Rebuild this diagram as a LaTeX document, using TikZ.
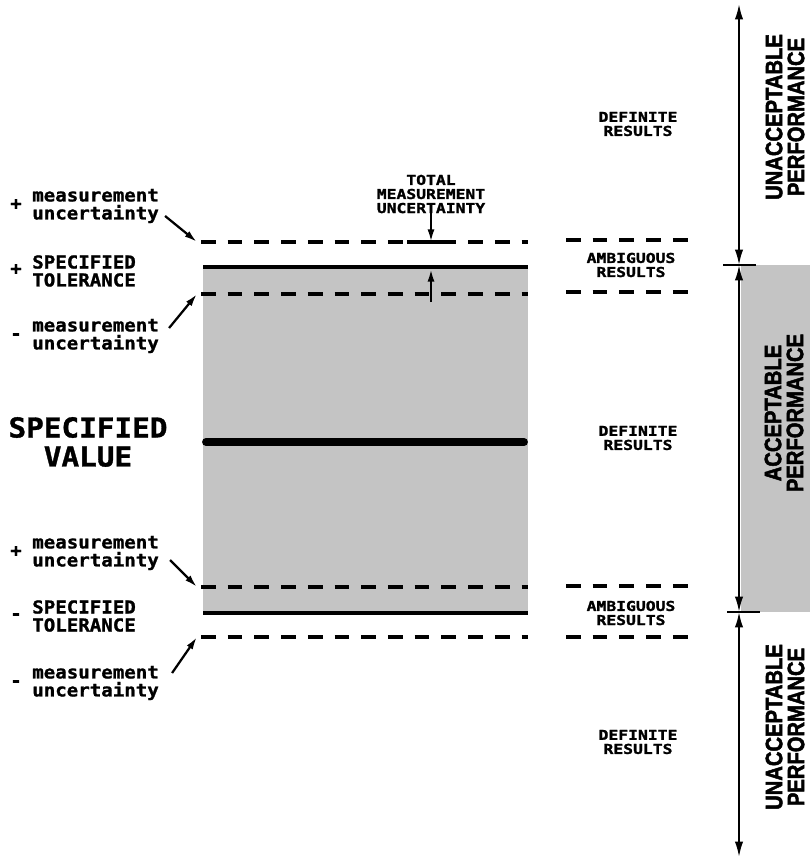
\documentclass[tikz,border=0pt]{standalone}
\usepackage{fontspec}
\usepackage{xcolor}
\usetikzlibrary{arrows.meta}
\newfontfamily\plotfont{DejaVu Sans Mono Bold}[FakeStretch=1.07, FakeBold=1.2]
\newfontfamily\smallplotfont{DejaVu Sans Mono Bold}[FakeStretch=1.2, FakeBold=1.5]
\newfontfamily\perffont{Liberation Sans Bold}[FakeStretch=0.85, FakeBold=2]
\definecolor{BandGray}{HTML}{C4C4C4}

\begin{document}
\begin{tikzpicture}[x=0.25mm, y=-0.25mm,
    levelsolid/.style={line width=2.8pt},
    levelcenter/.style={line width=5.6pt, line cap=round},
    leveldash/.style={line width=2.8pt, dash pattern=on 10.5pt off 8.5pt},
    pointer/.style={line width=1.6pt, -{Latex[length=9pt,width=5pt]}},
    perfarrow/.style={line width=1.4pt, {Latex[length=11pt,width=6pt]}-{Latex[length=11pt,width=6pt]}},
    sidetext/.style={font=\plotfont\fontsize{12.7}{12.8}\selectfont, align=left, anchor=west, inner sep=0pt},
    signtext/.style={font=\plotfont\fontsize{12.7}{12.8}\selectfont, inner sep=0pt, text height=1.2ex, text depth=0pt},
    smalltext/.style={font=\smallplotfont\fontsize{9.7}{10}\selectfont, align=center, inner sep=0pt},
    perftext/.style={font=\perffont\fontsize{16.9}{15.6}\selectfont, align=center, rotate=90, inner sep=0pt}]

  % Hintergrund (810 x 861 px)
  \fill[white] (0,0) rectangle (810,861);

  % Toleranzband und Balken rechts
  \fill[BandGray] (203,267) rectangle (528,613);
  \fill[BandGray] (741,265) rectangle (810,612);

  % Linkes Ende der Niveaulinien
  \coordinate (levPlusUncA) at (201,242);
  \coordinate (levPlusTol) at (203,267);
  \coordinate (levMinusUncA) at (201,294);
  \coordinate (levValue) at (206,442);
  \coordinate (levPlusUncB) at (201,587);
  \coordinate (levMinusTol) at (203,613);
  \coordinate (levMinusUncB) at (201,637);

  % Niveaulinien im Band
  \draw[leveldash] (levPlusUncA) -- ++(327,0);
  \draw[levelsolid] (levPlusTol) -- ++(325,0);
  \draw[leveldash] (levMinusUncA) -- ++(327,0);
  \draw[levelcenter] (levValue) -- ++(318,0);
  \draw[leveldash] (levPlusUncB) -- ++(327,0);
  \draw[levelsolid] (levMinusTol) -- ++(325,0);
  \draw[leveldash] (levMinusUncB) -- ++(327,0);

  % Kurze Striche bei den mehrdeutigen Ergebnissen
  \draw[leveldash] (566,240) -- (695,240);
  \draw[leveldash] (566,292) -- (695,292);
  \draw[leveldash] (566,586) -- (695,586);
  \draw[leveldash] (566,637) -- (695,637);

  % Makro fuer Beschriftung links
  % Parameter: 1=Name, 2=y, 3=Vorzeichen, 4=Text
  \def\sidelabel#1#2#3#4{
    \node[sidetext] (#1) at (32,#2) {#4};
    \node[signtext] (#1sign) at (16,#2) {#3};
  }

  \sidelabel{uncA}{206}{+}{measurement\\uncertainty}
  \sidelabel{tolA}{271}{+}{SPECIFIED\\TOLERANCE}
  \sidelabel{uncB}{336}{-}{measurement\\uncertainty}
  \sidelabel{uncC}{553}{+}{measurement\\uncertainty}
  \sidelabel{tolB}{616}{-}{SPECIFIED\\TOLERANCE}
  \sidelabel{uncD}{683}{-}{measurement\\uncertainty}

  \node[font=\plotfont\fontsize{19.5}{20.6}\selectfont, align=center, inner sep=0pt] (value) at (88,442) {SPECIFIED\\VALUE};

  % Pfeile zu den Linien
  \draw[pointer] ([shift={(6,10)}]uncA.east) -- ([xshift=-1mm]levPlusUncA);
  \draw[pointer] ([shift={(10,-8)}]uncB.east) -- ([xshift=-1mm]levMinusUncA);
  \draw[pointer] ([shift={(11,7)}]uncC.east) -- ([xshift=-1mm]levPlusUncB);
  \draw[pointer] ([shift={(13,-10)}]uncD.east) -- ([xshift=-1mm]levMinusUncB);

  % Gesamte Messunsicherheit
  \node[smalltext] (totalUnc) at (431,194) {TOTAL\\MEASUREMENT\\UNCERTAINTY};
  \coordinate (uncTop) at (431,242);
  \coordinate (uncBot) at (431,269);
  \draw[levelsolid] (407,242) -- (455,242);
  \draw[pointer] (totalUnc.south) -- (uncTop);
  \draw[pointer] (431,302) -- (uncBot);

  % Ergebnisse
  \node[smalltext] (defTop) at (638,124) {DEFINITE\\RESULTS};
  \node[smalltext] (ambTop) at (631,265) {AMBIGUOUS\\RESULTS};
  \node[smalltext] (defMid) at (638,438) {DEFINITE\\RESULTS};
  \node[smalltext] (ambBot) at (631,613) {AMBIGUOUS\\RESULTS};
  \node[smalltext] (defBot) at (638,742) {DEFINITE\\RESULTS};

  % Leistungsskala rechts
  \coordinate (scaleTop) at (739,4);
  \coordinate (tickTop) at (739,265);
  \coordinate (tickBot) at (739,612);
  \coordinate (scaleBot) at (739,857);
  \draw[perfarrow] (scaleTop) -- (tickTop);
  \draw[perfarrow] (tickTop) -- (tickBot);
  \draw[perfarrow] (tickBot) -- (scaleBot);
  \draw[line width=1.4pt] (tickTop) ++(-16,0) -- ++(33,0);
  \draw[line width=1.4pt] (tickBot) ++(-12,0) -- ++(33,0);

  \node[perftext] (perfTop) at (785,117) {UNACCEPTABLE\\PERFORMANCE};
  \node[perftext] (perfMid) at (784,413) {ACCEPTABLE\\PERFORMANCE};
  \node[perftext] (perfBot) at (785,727) {UNACCEPTABLE\\PERFORMANCE};

\end{tikzpicture}
\end{document}
